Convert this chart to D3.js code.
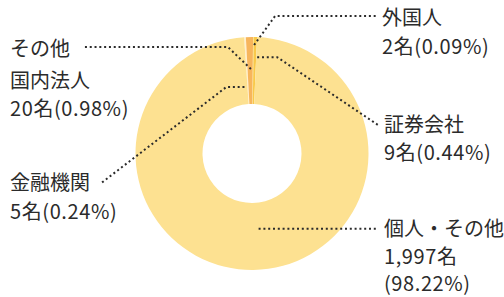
<!DOCTYPE html>
<html>
<head>
<meta charset="utf-8">
<script src="https://cdn.jsdelivr.net/npm/d3@7"></script>
<style>
	html, body { margin: 0; padding: 0; background: #fff; }
	svg { display: block; font-family: 'Noto Sans CJK JP', 'Noto Sans', sans-serif; }
</style>
</head>
<body>
<div id="chart"></div>
<script>
// shareholder categories, clockwise from the small slices at the top
const categories = ['金融機関', 'その他国内法人', '外国人', '証券会社', '個人・その他']
const holders = [5, 20, 2, 9, 1997]
const shares = ['0.24%', '0.98%', '0.09%', '0.44%', '98.22%']
const nameLines = [['金融機関'], ['その他', '国内法人'], ['外国人'], ['証券会社'], ['個人・その他']]
const countLabels = ['5名', '20名', '2名', '9名', '1,997名']

const colors = ['#fff0cd', '#f7b55c', '#fbe07c', '#f9c94a', '#fde191']

const W = 504, H = 297
const cx = 252, cy = 153.5
const outerR = 116.5, innerR = 49.5
const fontSize = 20

// label placement: x of text, y of each line, leader radius / angle tweak, elbow
const labelCfg = [
	{ x: 10, ys: [183, 212], r: 67, da: -3, elbow: { dx: -18, y2: 184, x2: 100, flat: true } },
	{ x: 10, ys: [49, 81, 109], r: 84.5, da: 0.5, elbow: { dx: -23, y2: 47, x2: 83 } },
	{ x: 382, ys: [18, 47], r: 108.5, da: 0.4, elbow: { dx: 21, y2: 16, x2: 376 } },
	{ x: 384, ys: [125, 153], r: 96.5, da: 1.4, elbow: { dx: 20, y2: 125, x2: 378, flat: true } },
	{ x: 384, ys: [229, 257, 284], r: 75.5, da: -4.3, elbow: null },
]

const svg = d3.select('#chart').append('svg').attr('width', W).attr('height', H)
const g = svg.append('g').attr('transform', 'translate(' + cx + ',' + cy + ')')

const startAngle = (-3.9 * Math.PI) / 180
const pie = d3
	.pie()
	.sort(null)
	.value((d) => d)
	.startAngle(startAngle)
	.endAngle(startAngle + Math.PI * 2)
const arcs = pie(holders)
const arc = d3.arc().innerRadius(innerR).outerRadius(outerR)

g.selectAll('path.slice')
	.data(arcs)
	.enter()
	.append('path')
	.attr('class', 'slice')
	.attr('d', arc)
	.attr('fill', (d, i) => colors[i])

// leader lines
const polar = (ang, r) => [r * Math.sin(ang), -r * Math.cos(ang)]
const leaders = svg.append('g').attr('transform', 'translate(' + cx + ',' + cy + ')')

arcs.forEach((a, i) => {
	const c = labelCfg[i]
	const mid = (a.startAngle + a.endAngle) / 2 + (c.da * Math.PI) / 180
	const p0 = polar(mid, c.r)
	const end = c.elbow ? [c.elbow.x2 - cx, c.elbow.y2 - cy] : [c.x - 7 - cx, p0[1]]
	let pts
	if (!c.elbow) {
		pts = [p0, end]
	} else if (c.elbow.flat) {
		// horizontal out of the slice, then diagonal to the label
		pts = [p0, [p0[0] + c.elbow.dx, p0[1]], end]
	} else {
		// diagonal out of the slice, then horizontal to the label
		pts = [p0, [p0[0] + c.elbow.dx, end[1]], end]
	}
	leaders
		.append('path')
		.attr('d', d3.line()(pts))
		.attr('fill', 'none')
		.attr('stroke', '#2b2b2b')
		.attr('stroke-width', 2)
		.attr('stroke-dasharray', '2 2.8')
})

// labels
arcs.forEach((a, i) => {
	const c = labelCfg[i]
	let lines = nameLines[i].slice()
	if (i === 4) {
		lines.push(countLabels[i], '(' + shares[i] + ')')
	} else {
		lines.push(countLabels[i] + '(' + shares[i] + ')')
	}
	lines.forEach((t, k) => {
		svg.append('text')
			.attr('x', c.x)
			.attr('y', c.ys[k])
			.attr('dy', '0.36em')
			.style('font-size', fontSize + 'px')
			.style('letter-spacing', /[0-9]/.test(t) ? '0.6px' : '0px')
			.style('fill', '#2b2b2b')
			.text(t)
	})
})
</script>
</body>
</html>
